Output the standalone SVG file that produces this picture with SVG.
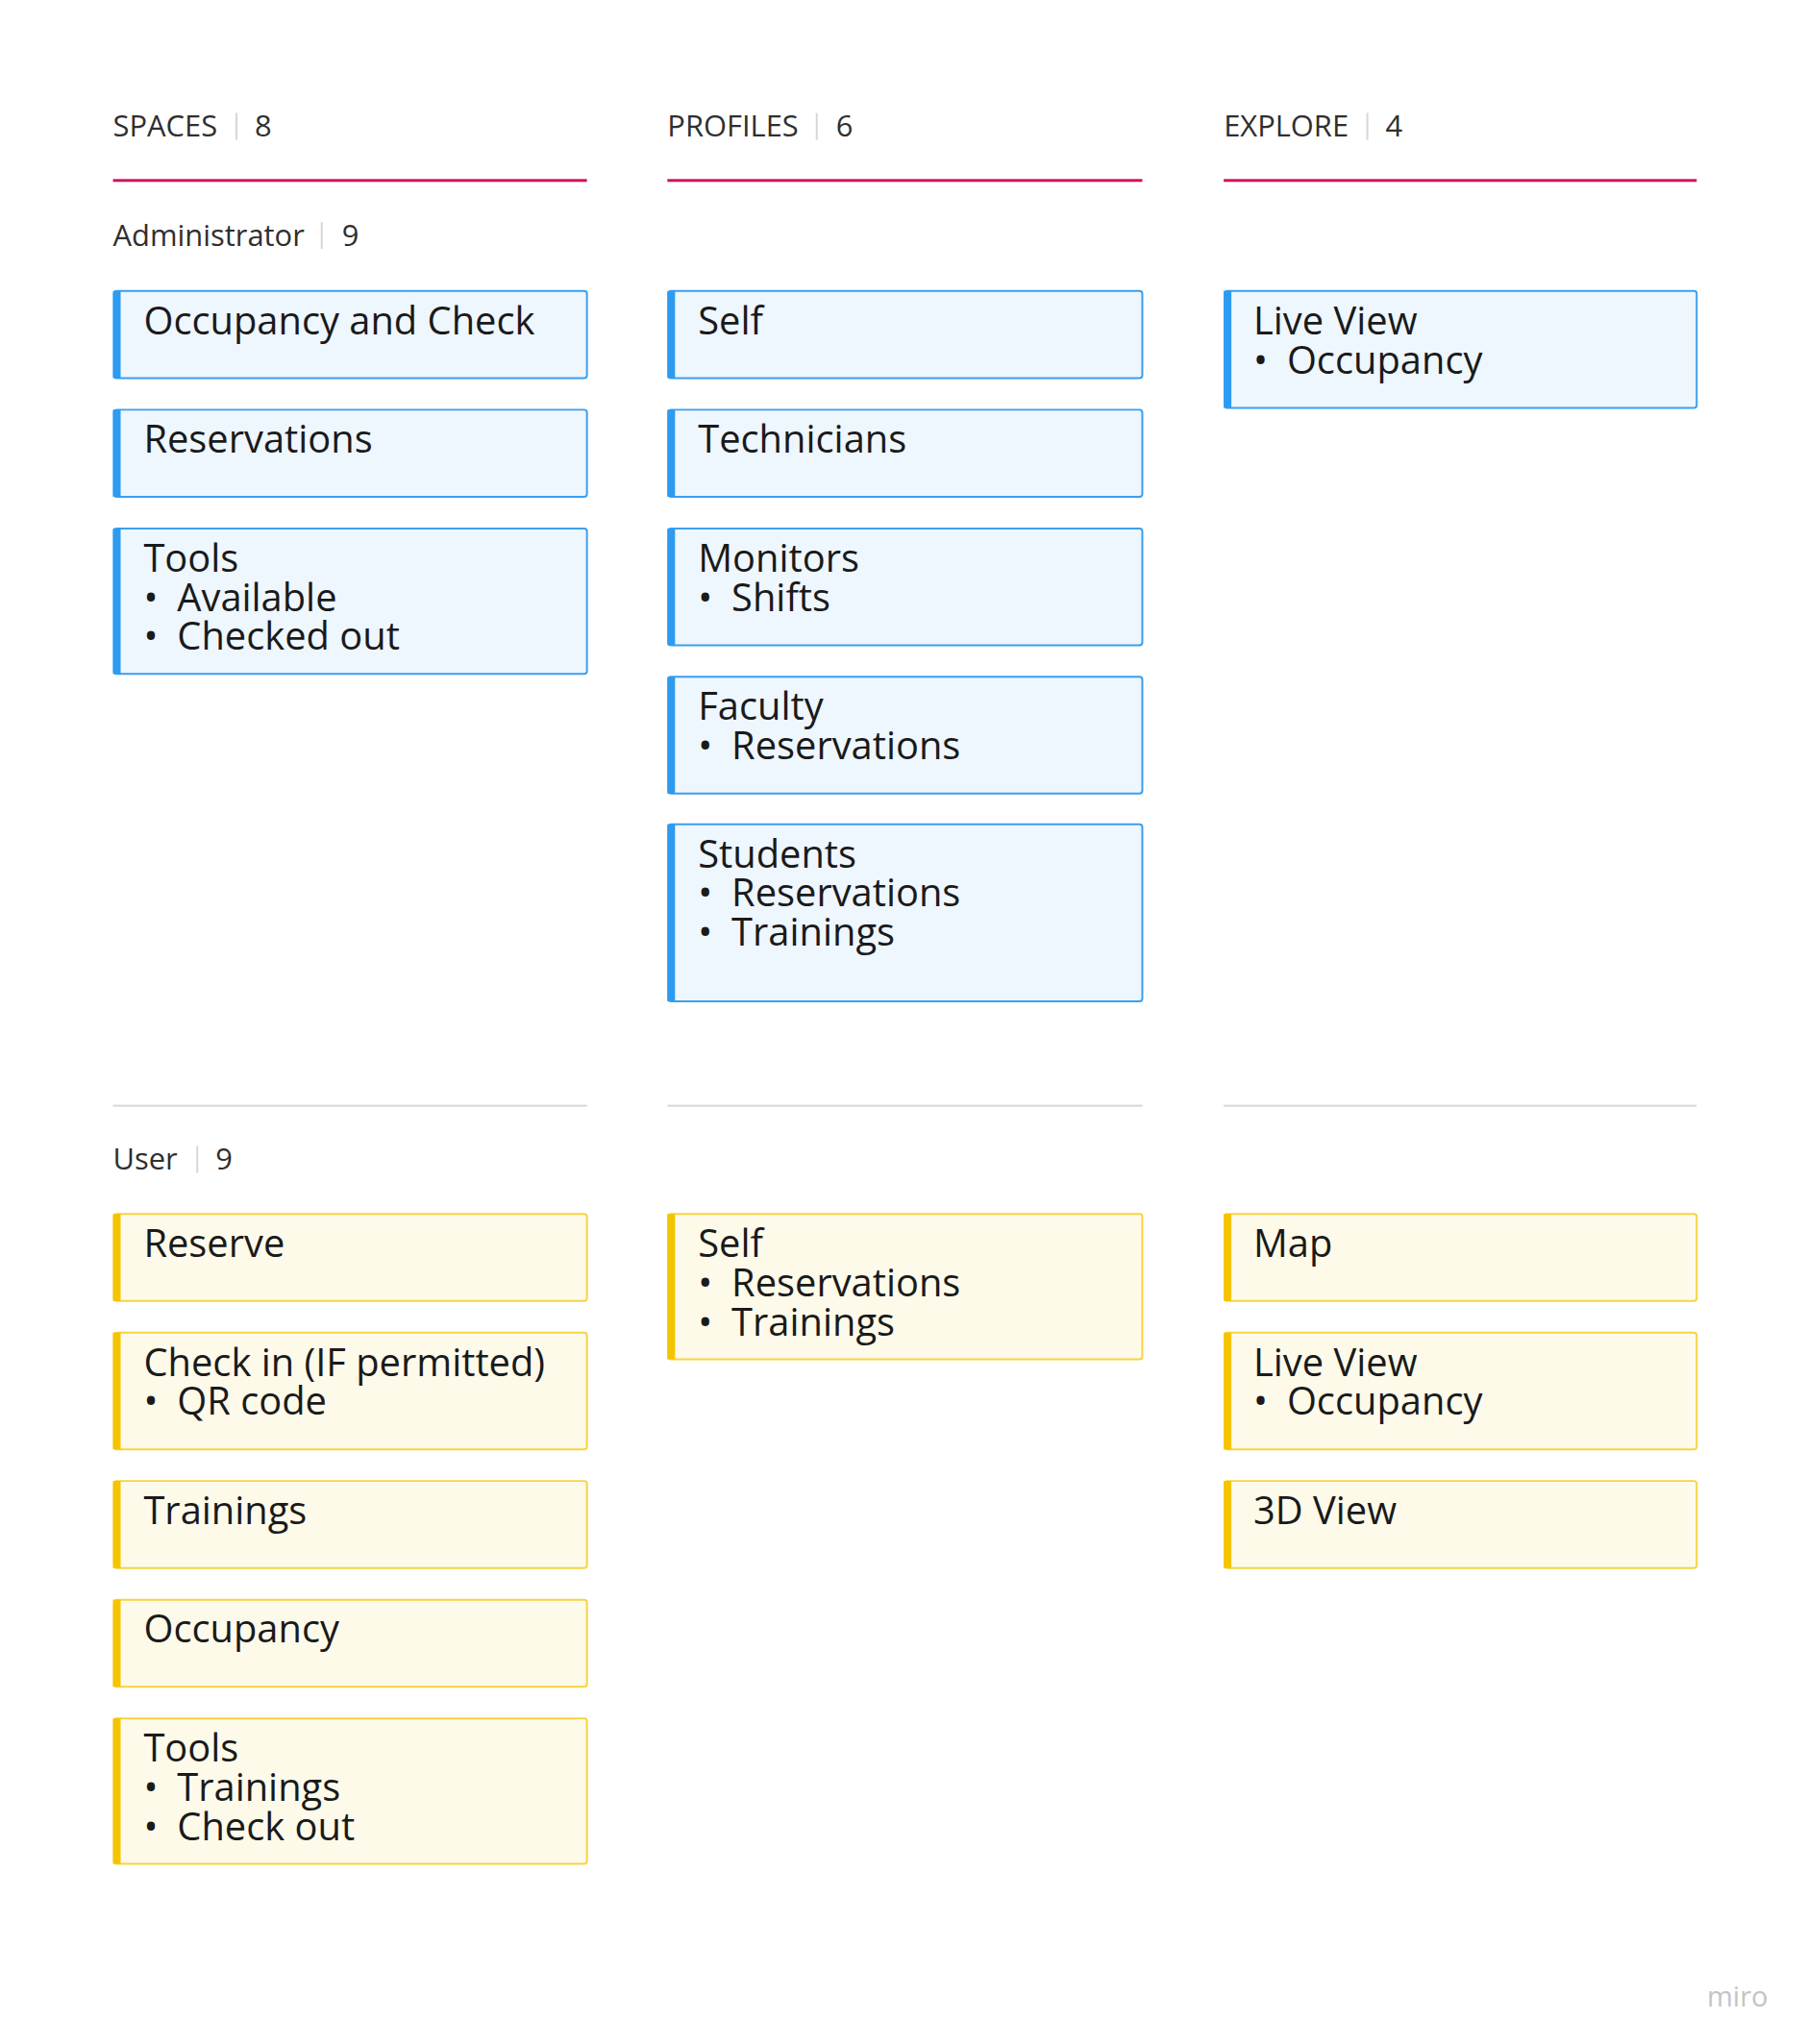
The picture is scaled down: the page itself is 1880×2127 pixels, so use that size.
<svg xmlns="http://www.w3.org/2000/svg" width="1880" height="2127" viewBox="0 0 1880 2127">
<style>
text{font-family:"Open Sans","Noto Sans",sans-serif}
.h{font-size:31px;fill:#2f2f2f}
.c{font-size:40px;fill:#1a1a1a}
.sep{stroke:#d6d6d6;stroke-width:2}
.bc{fill:#eef6fe;stroke:#3a9fef;stroke-width:2}
.bb{fill:#2d9bf0}
.yc{fill:#fdfaea;stroke:#f8d340;stroke-width:2}
.yb{fill:#f5c400}
</style>
<rect width="1880" height="2127" fill="#fff"/>
<g transform="scale(0.9962)">
<g id="headers">
<text class="h" x="118" y="143">SPACES</text><line class="sep" x1="247" y1="118" x2="247" y2="146"/><text class="h" x="266" y="143">8</text>
<text class="h" x="697" y="143">PROFILES</text><line class="sep" x1="853" y1="118" x2="853" y2="146"/><text class="h" x="873" y="143">6</text>
<text class="h" x="1278" y="143">EXPLORE</text><line class="sep" x1="1428" y1="118" x2="1428" y2="146"/><text class="h" x="1447" y="143">4</text>
<g fill="#d0135f"><rect x="118" y="187" width="495" height="3"/><rect x="697" y="187" width="496" height="3"/><rect x="1278" y="187" width="494" height="3"/></g>
<text class="h" x="118" y="257">Administrator</text><line class="sep" x1="336" y1="232" x2="336" y2="260"/><text class="h" x="357" y="257">9</text>
<g fill="#d6d6d6"><rect x="118" y="1154" width="495" height="2"/><rect x="697" y="1154" width="496" height="2"/><rect x="1278" y="1154" width="494" height="2"/></g>
<text class="h" x="118" y="1222">User</text><line class="sep" x1="206" y1="1197" x2="206" y2="1225"/><text class="h" x="225" y="1222">9</text>
</g>
<g id="a1"><rect class="bc" x="119" y="304" width="494" height="91" rx="3"/><rect class="bb" x="118" y="304" width="8" height="91"/><text class="c" x="150" y="349">Occupancy and Check</text></g>
<g id="a2"><rect class="bc" x="119" y="428" width="494" height="91" rx="3"/><rect class="bb" x="118" y="428" width="8" height="91"/><text class="c" x="150" y="473">Reservations</text></g>
<g id="a3"><rect class="bc" x="119" y="552" width="494" height="152" rx="3"/><rect class="bb" x="118" y="552" width="8" height="152"/><text class="c" x="150" y="597">Tools</text><text class="c" x="150" y="638">•</text><text class="c" x="185" y="638">Available</text><text class="c" x="150" y="679">•</text><text class="c" x="185" y="679">Checked out</text></g>
<g id="p1"><rect class="bc" x="698" y="304" width="495" height="91" rx="3"/><rect class="bb" x="697" y="304" width="8" height="91"/><text class="c" x="729" y="349">Self</text></g>
<g id="p2"><rect class="bc" x="698" y="428" width="495" height="91" rx="3"/><rect class="bb" x="697" y="428" width="8" height="91"/><text class="c" x="729" y="473">Technicians</text></g>
<g id="p3"><rect class="bc" x="698" y="552" width="495" height="122" rx="3"/><rect class="bb" x="697" y="552" width="8" height="122"/><text class="c" x="729" y="597">Monitors</text><text class="c" x="729" y="638">•</text><text class="c" x="764" y="638">Shifts</text></g>
<g id="p4"><rect class="bc" x="698" y="707" width="495" height="122" rx="3"/><rect class="bb" x="697" y="707" width="8" height="122"/><text class="c" x="729" y="752">Faculty</text><text class="c" x="729" y="793">•</text><text class="c" x="764" y="793">Reservations</text></g>
<g id="p5"><rect class="bc" x="698" y="861" width="495" height="185" rx="3"/><rect class="bb" x="697" y="861" width="8" height="185"/><text class="c" x="729" y="906">Students</text><text class="c" x="729" y="947">•</text><text class="c" x="764" y="947">Reservations</text><text class="c" x="729" y="988">•</text><text class="c" x="764" y="988">Trainings</text></g>
<g id="e1"><rect class="bc" x="1279" y="304" width="493" height="122" rx="3"/><rect class="bb" x="1278" y="304" width="8" height="122"/><text class="c" x="1309" y="349">Live View</text><text class="c" x="1309" y="390">•</text><text class="c" x="1344" y="390">Occupancy</text></g>
<g id="u1"><rect class="yc" x="119" y="1268" width="494" height="91" rx="3"/><rect class="yb" x="118" y="1268" width="8" height="91"/><text class="c" x="150" y="1313">Reserve</text></g>
<g id="u2"><rect class="yc" x="119" y="1392" width="494" height="122" rx="3"/><rect class="yb" x="118" y="1392" width="8" height="122"/><text class="c" x="150" y="1437">Check in (IF permitted)</text><text class="c" x="150" y="1478">•</text><text class="c" x="185" y="1478">QR code</text></g>
<g id="u3"><rect class="yc" x="119" y="1547" width="494" height="91" rx="3"/><rect class="yb" x="118" y="1547" width="8" height="91"/><text class="c" x="150" y="1592">Trainings</text></g>
<g id="u4"><rect class="yc" x="119" y="1671" width="494" height="91" rx="3"/><rect class="yb" x="118" y="1671" width="8" height="91"/><text class="c" x="150" y="1716">Occupancy</text></g>
<g id="u5"><rect class="yc" x="119" y="1795" width="494" height="152" rx="3"/><rect class="yb" x="118" y="1795" width="8" height="152"/><text class="c" x="150" y="1840">Tools</text><text class="c" x="150" y="1881">•</text><text class="c" x="185" y="1881">Trainings</text><text class="c" x="150" y="1922">•</text><text class="c" x="185" y="1922">Check out</text></g>
<g id="up1"><rect class="yc" x="698" y="1268" width="495" height="152" rx="3"/><rect class="yb" x="697" y="1268" width="8" height="152"/><text class="c" x="729" y="1313">Self</text><text class="c" x="729" y="1354">•</text><text class="c" x="764" y="1354">Reservations</text><text class="c" x="729" y="1395">•</text><text class="c" x="764" y="1395">Trainings</text></g>
<g id="ue1"><rect class="yc" x="1279" y="1268" width="493" height="91" rx="3"/><rect class="yb" x="1278" y="1268" width="8" height="91"/><text class="c" x="1309" y="1313">Map</text></g>
<g id="ue2"><rect class="yc" x="1279" y="1392" width="493" height="122" rx="3"/><rect class="yb" x="1278" y="1392" width="8" height="122"/><text class="c" x="1309" y="1437">Live View</text><text class="c" x="1309" y="1478">•</text><text class="c" x="1344" y="1478">Occupancy</text></g>
<g id="ue3"><rect class="yc" x="1279" y="1547" width="493" height="91" rx="3"/><rect class="yb" x="1278" y="1547" width="8" height="91"/><text class="c" x="1309" y="1592">3D View</text></g>
<g id="connectors"/>
</g>
<text x="1776" y="2088" font-size="29" fill="#c4c4c4">miro</text>
</svg>
